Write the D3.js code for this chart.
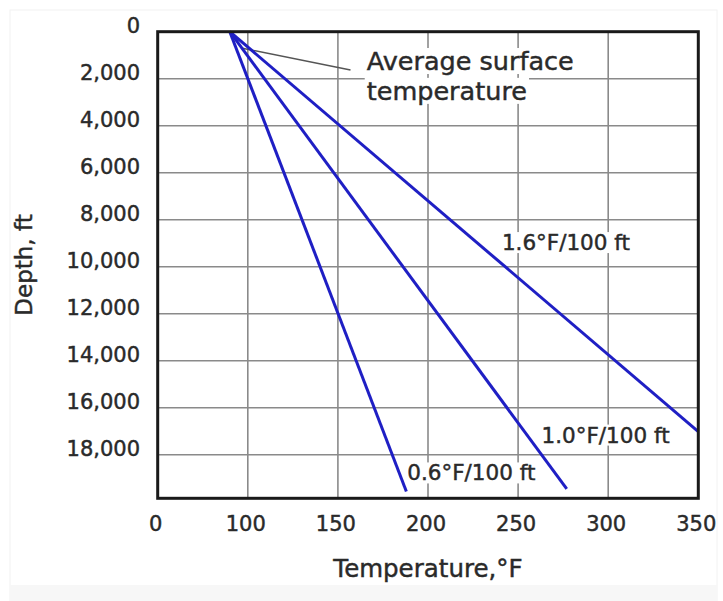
<!DOCTYPE html>
<html>
<head>
<meta charset="utf-8">
<script src="https://cdn.jsdelivr.net/npm/d3@7/dist/d3.min.js"></script>
<style>
  body { margin: 0; background: #fff; }
  text { font-family: "DejaVu Sans", sans-serif; fill: #2a2a2a; stroke: #2a2a2a; stroke-width: 0.45px; }
</style>
</head>
<body>
<div id="chart"></div>
<script>
// Temperature vs depth for three geothermal gradients
const surfaceTemp = 90;            // °F at depth 0
const gradientNames = ['1.6°F/100 ft', '1.0°F/100 ft', '0.6°F/100 ft'];
const endTemps = [350, 277, 188];  // °F where each line stops
const endDepths = [17010, 19450, 19560];
// label anchor (temperature, depth)
const labelTemps = [241, 263, 188.5];
const labelDepths = [9290, 17480, 19090];

const xTicks = [50, 100, 150, 200, 250, 300, 350]; // 50 stands for the broken "0"
const yTicks = [0, 2000, 4000, 6000, 8000, 10000, 12000, 14000, 16000, 18000];

const width = 723, height = 601;
const margin = { top: 31.7, right: 24.7, bottom: 102.7, left: 157.7 };

const svg = d3.select('#chart')
    .append('svg')
    .attr('width', width)
    .attr('height', height);

// faint photo frame + grey strip at the bottom
svg.append('rect')
    .attr('x', 10).attr('y', 10)
    .attr('width', 707).attr('height', 591)
    .attr('fill', 'none')
    .attr('stroke', '#f2f2f2');
svg.append('rect')
    .attr('x', 10).attr('y', 585)
    .attr('width', 707).attr('height', 16)
    .attr('fill', '#f7f7f7');

const x = d3.scaleLinear()
    .domain([50, 350])
    .range([margin.left, width - margin.right]);

const y = d3.scaleLinear()
    .domain([0, 19850])
    .range([margin.top, height - margin.bottom]);

// grid
svg.append('g')
    .selectAll('line')
    .data(xTicks.slice(1, -1))
    .join('line')
    .attr('x1', d => x(d)).attr('x2', d => x(d))
    .attr('y1', y.range()[0]).attr('y2', y.range()[1])
    .attr('stroke', '#8a8a8a')
    .attr('stroke-width', 1.6);

svg.append('g')
    .selectAll('line')
    .data(yTicks.slice(1))
    .join('line')
    .attr('x1', x.range()[0]).attr('x2', x.range()[1])
    .attr('y1', d => y(d)).attr('y2', d => y(d))
    .attr('stroke', '#8a8a8a')
    .attr('stroke-width', 1.6);

// tick labels
svg.append('g')
    .selectAll('text')
    .data(yTicks)
    .join('text')
    .attr('x', 140)
    .attr('y', d => y(d) - 6)
    .attr('dy', '0.36em')
    .attr('text-anchor', 'end')
    .attr('font-size', '21px')
    .text(d => d3.format(',')(d));

svg.append('g')
    .selectAll('text')
    .data(xTicks)
    .join('text')
    .attr('x', d => x(d) - 2)
    .attr('y', 531)
    .attr('text-anchor', 'middle')
    .attr('font-size', '21px')
    .text(d => d === 50 ? '0' : d);

// axis titles
svg.append('text')
    .attr('transform', 'translate(32,265) rotate(-90)')
    .attr('text-anchor', 'middle')
    .attr('font-size', '23px')
    .text('Depth, ft');

svg.append('text')
    .attr('x', (x.range()[0] + x.range()[1]) / 2)
    .attr('y', 577)
    .attr('text-anchor', 'middle')
    .attr('font-size', '24.5px')
    .text('Temperature,°F');

// labels with white boxes, they cut the grid
function boxedText(g, tx, ty, str, size) {
    const t = g.append('text')
        .attr('x', tx).attr('y', ty)
        .attr('font-size', size)
        .text(str);
    const b = t.node().getBBox();
    g.insert('rect', 'text')
        .attr('x', b.x - 2).attr('y', b.y + 2)
        .attr('width', b.width + 4).attr('height', b.height - 4)
        .attr('fill', '#fff');
}

const labels = svg.append('g');
gradientNames.forEach((name, i) => {
    boxedText(labels.append('g'), x(labelTemps[i]), y(labelDepths[i]), name, '21.5px');
});

// annotation
const ann = svg.append('g');
boxedText(ann.append('g'), x(166), y(1630), 'Average surface', '25.5px');
boxedText(ann.append('g'), x(166), y(2900), 'temperature', '25.5px');
ann.append('line')
    .attr('x1', x(97)).attr('y1', y(700))
    .attr('x2', x(157)).attr('y2', y(1630))
    .attr('stroke', '#555')
    .attr('stroke-width', 1.5);

// gradient lines
const line = d3.line().x(d => x(d[0])).y(d => y(d[1]));
svg.append('g')
    .selectAll('path')
    .data(endTemps.map((t, i) => [[surfaceTemp, 0], [t, endDepths[i]]]))
    .join('path')
    .attr('d', line)
    .attr('fill', 'none')
    .attr('stroke', '#1f1fc4')
    .attr('stroke-width', 3);

// frame
svg.append('rect')
    .attr('x', x.range()[0]).attr('y', y.range()[0])
    .attr('width', x.range()[1] - x.range()[0])
    .attr('height', y.range()[1] - y.range()[0])
    .attr('fill', 'none')
    .attr('stroke', '#1a1a1a')
    .attr('stroke-width', 3);
</script>
</body>
</html>
